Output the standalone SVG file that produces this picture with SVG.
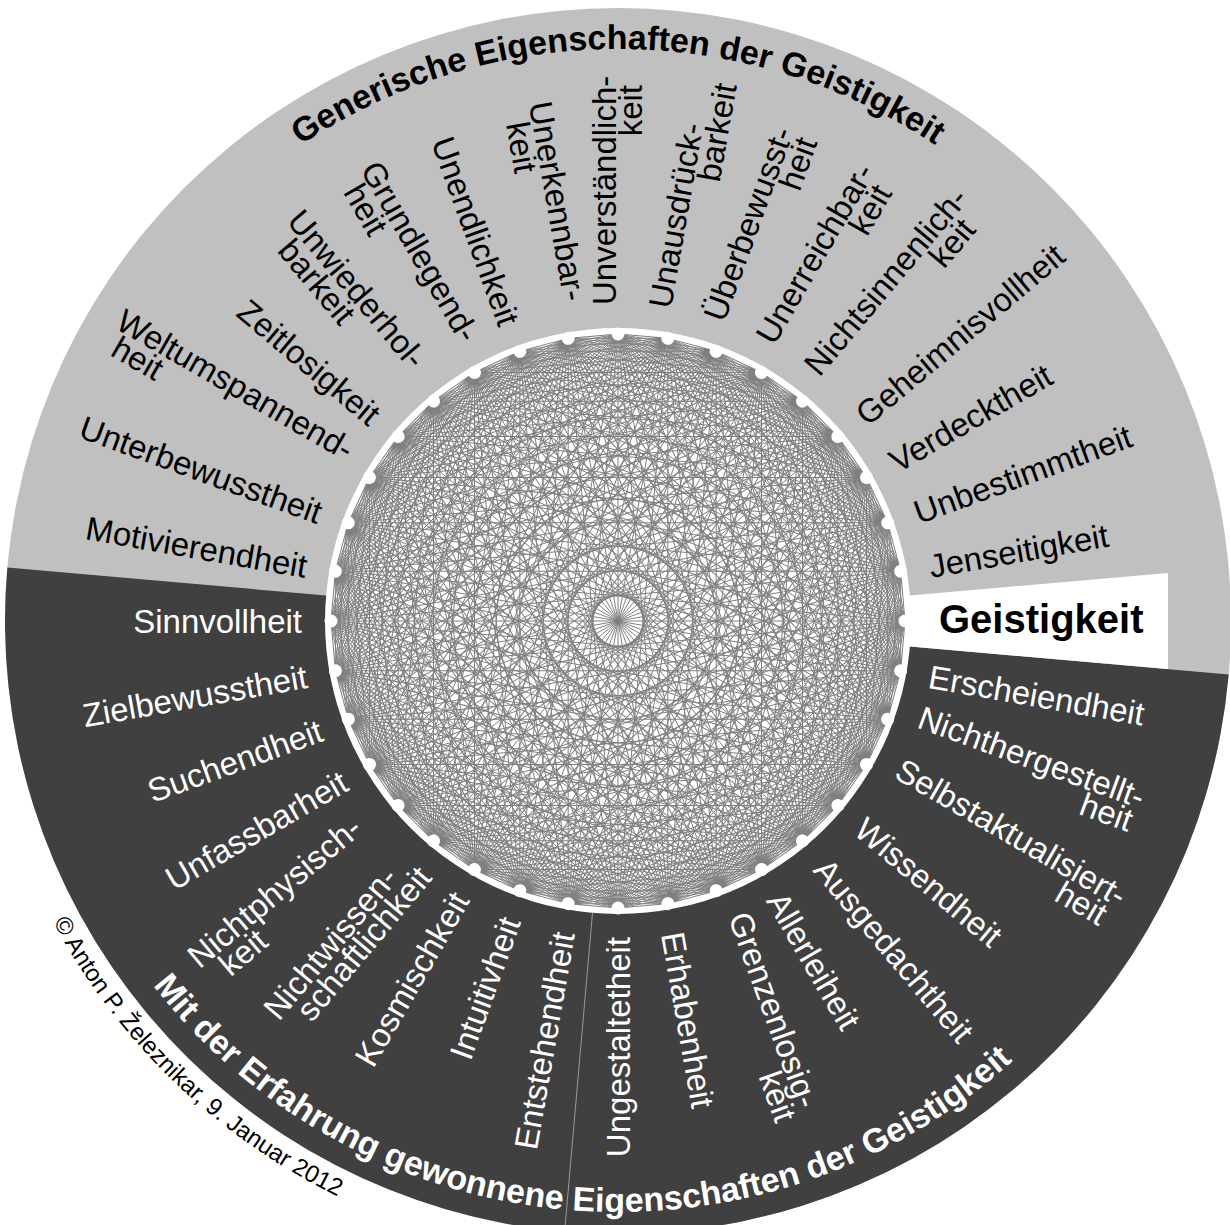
<svg xmlns="http://www.w3.org/2000/svg" width="1230" height="1225" viewBox="0 0 1230 1225">
<defs>
<style>
.lb{font-family:"Liberation Sans",Arial,sans-serif;font-size:33px}
.k{fill:#000}
.w{fill:#fff}
.e{text-anchor:end}
.tt{font-family:"Liberation Sans",Arial,sans-serif;font-size:34px;font-weight:bold}
.dot{fill:#fff}
</style>
<path id="fan" d="M287 0L282.64-49.84M287 0L269.69-98.16M287 0L248.55-143.5M287 0L219.85-184.48M287 0L184.48-219.85M287 0L143.5-248.55M287 0L98.16-269.69M287 0L49.84-282.64M287 0L0-287M287 0L-49.84-282.64M287 0L-98.16-269.69M287 0L-143.5-248.55M287 0L-184.48-219.85M287 0L-219.85-184.48M287 0L-248.55-143.5M287 0L-269.69-98.16M287 0L-282.64-49.84"/>
<path id="arcTop" d="M122.63 335A572 572 0 0 1 1113.37 335"/>
<path id="arcBot" d="M108.26 920.06A591 591 0 0 0 1068.07 1004.04"/>
<path id="arcCopy" d="M16.6 839.9A640 640 0 0 0 452.4 1239.2"/>
</defs>
<rect width="1230" height="1225" fill="#fff"/>
<g id="background">
<circle cx="618" cy="621" r="613" fill="#c0c0c0"/>
<path d="M618 621L1228.67 674.43A613 613 0 0 1 564.57 1231.67A613 613 0 0 1 7.33 567.57Z" fill="#404040"/>
<polygon points="618,621 1168,572.9 1168,669.1" fill="#fff"/>
<line x1="592.5" y1="912.9" x2="564.6" y2="1231.7" stroke="#9a9a9a" stroke-width="1"/>
<circle cx="618" cy="621" r="293" fill="#fff"/>
</g>
<g id="connectors" stroke="#808080" stroke-width="1" fill="none" transform="translate(618 621)">
<use href="#fan"/>
<use href="#fan" transform="rotate(10)"/>
<use href="#fan" transform="rotate(20)"/>
<use href="#fan" transform="rotate(30)"/>
<use href="#fan" transform="rotate(40)"/>
<use href="#fan" transform="rotate(50)"/>
<use href="#fan" transform="rotate(60)"/>
<use href="#fan" transform="rotate(70)"/>
<use href="#fan" transform="rotate(80)"/>
<use href="#fan" transform="rotate(90)"/>
<use href="#fan" transform="rotate(100)"/>
<use href="#fan" transform="rotate(110)"/>
<use href="#fan" transform="rotate(120)"/>
<use href="#fan" transform="rotate(130)"/>
<use href="#fan" transform="rotate(140)"/>
<use href="#fan" transform="rotate(150)"/>
<use href="#fan" transform="rotate(160)"/>
<use href="#fan" transform="rotate(170)"/>
<use href="#fan" transform="rotate(180)"/>
<use href="#fan" transform="rotate(190)"/>
<use href="#fan" transform="rotate(200)"/>
<use href="#fan" transform="rotate(210)"/>
<use href="#fan" transform="rotate(220)"/>
<use href="#fan" transform="rotate(230)"/>
<use href="#fan" transform="rotate(240)"/>
<use href="#fan" transform="rotate(250)"/>
<use href="#fan" transform="rotate(260)"/>
<use href="#fan" transform="rotate(270)"/>
<use href="#fan" transform="rotate(280)"/>
<use href="#fan" transform="rotate(290)"/>
<use href="#fan" transform="rotate(300)"/>
<use href="#fan" transform="rotate(310)"/>
<use href="#fan" transform="rotate(320)"/>
<use href="#fan" transform="rotate(330)"/>
<use href="#fan" transform="rotate(340)"/>
<use href="#fan" transform="rotate(350)"/>
<path d="M287 0L-287 0M282.64-49.84L-282.64 49.84M269.69-98.16L-269.69 98.16M248.55-143.5L-248.55 143.5M219.85-184.48L-219.85 184.48M184.48-219.85L-184.48 219.85M143.5-248.55L-143.5 248.55M98.16-269.69L-98.16 269.69M49.84-282.64L-49.84 282.64M0-287L0 287M-49.84-282.64L49.84 282.64M-98.16-269.69L98.16 269.69M-143.5-248.55L143.5 248.55M-184.48-219.85L184.48 219.85M-219.85-184.48L219.85 184.48M-248.55-143.5L248.55 143.5M-269.69-98.16L269.69 98.16M-282.64-49.84L282.64 49.84"/>
</g>
<g id="nodes">
<g id="n-unverstaendlichkeit" transform="translate(618 621) rotate(-90)"><circle class="dot" cx="287" r="6.5"/><text class="lb k" x="316" y="-2">Unverständlich-</text><text class="lb k e" x="536" y="24">keit</text></g>
<g id="n-unausdrueckbarkeit" transform="translate(618 621) rotate(-80)"><circle class="dot" cx="287" r="6.5"/><text class="lb k" x="316" y="-2">Unausdrück-</text><text class="lb k e" x="548" y="24">barkeit</text></g>
<g id="n-ueberbewusstheit" transform="translate(618 621) rotate(-70)"><circle class="dot" cx="287" r="6.5"/><text class="lb k" x="316" y="-2">Überbewusst-</text><text class="lb k e" x="518" y="24">heit</text></g>
<g id="n-unerreichbarkeit" transform="translate(618 621) rotate(-60)"><circle class="dot" cx="287" r="6.5"/><text class="lb k" x="316" y="-2">Unerreichbar-</text><text class="lb k e" x="508" y="24">keit</text></g>
<g id="n-nichtsinnenlichkeit" transform="translate(618 621) rotate(-50)"><circle class="dot" cx="287" r="6.5"/><text class="lb k" x="316" y="-2">Nichtsinnenlich-</text><text class="lb k e" x="530" y="24">keit</text></g>
<g id="n-geheimnisvollheit" transform="translate(618 621) rotate(-40)"><circle class="dot" cx="287" r="6.5"/><text class="lb k" x="316" y="12">Geheimnisvollheit</text></g>
<g id="n-verdecktheit" transform="translate(618 621) rotate(-30)"><circle class="dot" cx="287" r="6.5"/><text class="lb k" x="316" y="12">Verdecktheit</text></g>
<g id="n-unbestimmtheit" transform="translate(618 621) rotate(-20)"><circle class="dot" cx="287" r="6.5"/><text class="lb k" x="316" y="12">Unbestimmtheit</text></g>
<g id="n-jenseitigkeit" transform="translate(618 621) rotate(-10)"><circle class="dot" cx="287" r="6.5"/><text class="lb k" x="316" y="12">Jenseitigkeit</text></g>
<g id="n-geistigkeit" transform="translate(618 621)"><circle class="dot" cx="287" r="6.5"/><text class="lb k" x="321" y="12" style="font-size:40px;font-weight:bold">Geistigkeit</text></g>
<g id="n-erscheiendheit" transform="translate(618 621) rotate(10)"><circle class="dot" cx="287" r="6.5"/><text class="lb w" x="316" y="12">Erscheiendheit</text></g>
<g id="n-nichthergestelltheit" transform="translate(618 621) rotate(20)"><circle class="dot" cx="287" r="6.5"/><text class="lb w" x="316" y="-2">Nichthergestellt-</text><text class="lb w e" x="551" y="24">heit</text></g>
<g id="n-selbstaktualisiertheit" transform="translate(618 621) rotate(30)"><circle class="dot" cx="287" r="6.5"/><text class="lb w" x="316" y="-2">Selbstaktualisiert-</text><text class="lb w e" x="569" y="24">heit</text></g>
<g id="n-wissendheit" transform="translate(618 621) rotate(40)"><circle class="dot" cx="287" r="6.5"/><text class="lb w" x="316" y="12">Wissendheit</text></g>
<g id="n-ausgedachtheit" transform="translate(618 621) rotate(50)"><circle class="dot" cx="287" r="6.5"/><text class="lb w" x="316" y="12">Ausgedachtheit</text></g>
<g id="n-allerleiheit" transform="translate(618 621) rotate(60)"><circle class="dot" cx="287" r="6.5"/><text class="lb w" x="316" y="12">Allerleiheit</text></g>
<g id="n-grenzenlosigkeit" transform="translate(618 621) rotate(70)"><circle class="dot" cx="287" r="6.5"/><text class="lb w" x="316" y="-2">Grenzenlosig-</text><text class="lb w e" x="527" y="24">keit</text></g>
<g id="n-erhabenheit" transform="translate(618 621) rotate(80)"><circle class="dot" cx="287" r="6.5"/><text class="lb w" x="316" y="12">Erhabenheit</text></g>
<g id="n-ungestaltetheit" transform="translate(618 621) rotate(-90)"><circle class="dot" cx="-287" r="6.5"/><text class="lb w e" x="-316" y="12">Ungestaltetheit</text></g>
<g id="n-entstehendheit" transform="translate(618 621) rotate(-80)"><circle class="dot" cx="-287" r="6.5"/><text class="lb w e" x="-316" y="12">Entstehendheit</text></g>
<g id="n-intuitivheit" transform="translate(618 621) rotate(-70)"><circle class="dot" cx="-287" r="6.5"/><text class="lb w e" x="-316" y="12">Intuitivheit</text></g>
<g id="n-kosmischkeit" transform="translate(618 621) rotate(-60)"><circle class="dot" cx="-287" r="6.5"/><text class="lb w e" x="-316" y="12">Kosmischkeit</text></g>
<g id="n-nichtwissenschaftlichkeit" transform="translate(618 621) rotate(-50)"><circle class="dot" cx="-287" r="6.5"/><text class="lb w e" x="-338" y="-2">Nichtwissen-</text><text class="lb w e" x="-316" y="24">schaftlichkeit</text></g>
<g id="n-nichtphysischkeit" transform="translate(618 621) rotate(-40)"><circle class="dot" cx="-287" r="6.5"/><text class="lb w e" x="-330" y="-2">Nichtphysisch-</text><text class="lb w" x="-526" y="24">keit</text></g>
<g id="n-unfassbarheit" transform="translate(618 621) rotate(-30)"><circle class="dot" cx="-287" r="6.5"/><text class="lb w e" x="-316" y="12">Unfassbarheit</text></g>
<g id="n-suchendheit" transform="translate(618 621) rotate(-20)"><circle class="dot" cx="-287" r="6.5"/><text class="lb w e" x="-316" y="12">Suchendheit</text></g>
<g id="n-zielbewusstheit" transform="translate(618 621) rotate(-10)"><circle class="dot" cx="-287" r="6.5"/><text class="lb w e" x="-316" y="12">Zielbewusstheit</text></g>
<g id="n-sinnvollheit" transform="translate(618 621)"><circle class="dot" cx="-287" r="6.5"/><text class="lb w e" x="-316" y="12">Sinnvollheit</text></g>
<g id="n-motivierendheit" transform="translate(618 621) rotate(10)"><circle class="dot" cx="-287" r="6.5"/><text class="lb k e" x="-316" y="12">Motivierendheit</text></g>
<g id="n-unterbewusstheit" transform="translate(618 621) rotate(20)"><circle class="dot" cx="-287" r="6.5"/><text class="lb k e" x="-316" y="12">Unterbewusstheit</text></g>
<g id="n-weltumspannendheit" transform="translate(618 621) rotate(30)"><circle class="dot" cx="-287" r="6.5"/><text class="lb k e" x="-316" y="-2">Weltumspannend-</text><text class="lb k" x="-574" y="24">heit</text></g>
<g id="n-zeitlosigkeit" transform="translate(618 621) rotate(40)"><circle class="dot" cx="-287" r="6.5"/><text class="lb k e" x="-316" y="12">Zeitlosigkeit</text></g>
<g id="n-unwiederholbarkeit" transform="translate(618 621) rotate(50)"><circle class="dot" cx="-287" r="6.5"/><text class="lb k e" x="-325" y="-2">Unwiederhol-</text><text class="lb k" x="-503" y="24">barkeit</text></g>
<g id="n-grundlegendheit" transform="translate(618 621) rotate(60)"><circle class="dot" cx="-287" r="6.5"/><text class="lb k e" x="-318" y="-2">Grundlegend-</text><text class="lb k" x="-509" y="24">heit</text></g>
<g id="n-unendlichkeit" transform="translate(618 621) rotate(70)"><circle class="dot" cx="-287" r="6.5"/><text class="lb k e" x="-316" y="12">Unendlichkeit</text></g>
<g id="n-unerkennbarkeit" transform="translate(618 621) rotate(80)"><circle class="dot" cx="-287" r="6.5"/><text class="lb k e" x="-323" y="-2">Unerkennbar-</text><text class="lb k" x="-509" y="24">keit</text></g>
</g>
<g id="titles">
<text class="tt" fill="#000"><textPath href="#arcTop" startOffset="50%" text-anchor="middle">Generische Eigenschaften der Geistigkeit</textPath></text>
<text class="tt" fill="#fff"><textPath href="#arcBot" startOffset="50%" text-anchor="middle">Mit der Erfahrung gewonnene Eigenschaften der Geistigkeit</textPath></text>
<text style="font-family:'Liberation Sans',Arial,sans-serif;font-size:24px" fill="#000"><textPath href="#arcCopy" startOffset="90">© Anton P. Železnikar, 9. Januar 2012</textPath></text>
</g>
</svg>
